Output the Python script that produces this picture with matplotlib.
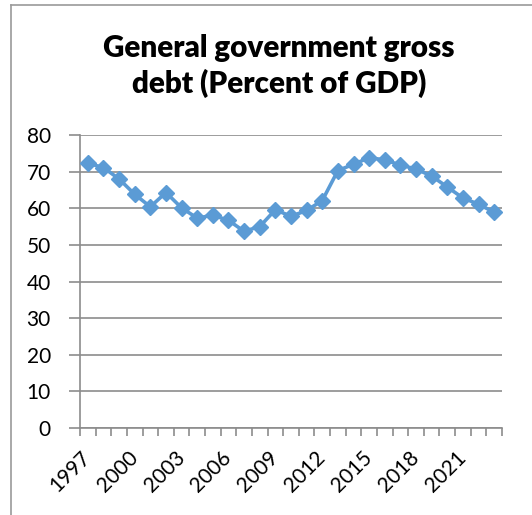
import numpy as np
import matplotlib.pyplot as plt
from matplotlib.lines import Line2D

years = list(range(1997, 2024))
debt = [72.3, 71.1, 68.0, 63.8, 60.4, 64.3, 60.1, 57.3, 58.1, 56.7,
        53.7, 55.0, 59.6, 57.8, 59.4, 62.1, 70.3, 72.0, 73.8, 73.2,
        71.8, 70.7, 68.8, 65.8, 62.8, 61.1, 58.9]
label_years = years[::3]

plt.rcParams['font.family'] = ['Lato', 'DejaVu Sans']

W, H = 532, 515
fig = plt.figure(figsize=(W / 100, H / 100), dpi=100)
ax = fig.add_axes([80 / W, (H - 428) / H, (502 - 80) / W, (428 - 135) / H])

x = np.arange(len(years))
ax.plot(x, debt, color='#5B9BD5', lw=2.6, marker='D', ms=8.5,
        markeredgecolor='#5B9BD5', zorder=3)

ax.set_xlim(-0.5, len(years) - 0.5)
ax.set_ylim(0, 80)
ax.set_yticks(range(0, 81, 10))
ax.yaxis.grid(True, color='#8c8c8c', lw=1.2)
ax.set_axisbelow(True)

# category labels every 3 years, tick marks between categories
ax.set_xticks([years.index(y) for y in label_years])
ax.set_xticklabels([str(y) for y in label_years], rotation=45,
                   ha='right', va='center', rotation_mode='anchor')
ax.set_xticks(np.arange(-0.5, len(years)), minor=True)
ax.tick_params(axis='x', which='major', length=0, pad=19, labelsize=15)
ax.tick_params(axis='x', which='minor', length=6, color='#8c8c8c', width=1.2)
ax.tick_params(axis='y', length=8, color='#8c8c8c', width=1.2, labelsize=15, pad=13)

for side in ('top', 'right'):
    ax.spines[side].set_visible(False)
for side in ('left', 'bottom'):
    ax.spines[side].set_color('#8c8c8c')
    ax.spines[side].set_linewidth(1.2)

fig.text(279 / W, 1 - 57 / H, 'General government gross',
         ha='center', va='baseline', fontsize=21.3, fontweight='heavy')
fig.text(279 / W, 1 - 93 / H, 'debt (Percent of GDP)',
         ha='center', va='baseline', fontsize=21.3, fontweight='heavy')

# chart frame
fig.add_artist(Line2D([10.5 / W, 10.5 / W], [0, 1 - 4.5 / H],
                      transform=fig.transFigure, color='#9a9a9a', lw=1.2))
fig.add_artist(Line2D([10.5 / W, 1], [1 - 4.5 / H, 1 - 4.5 / H],
                      transform=fig.transFigure, color='#9a9a9a', lw=1.2))

fig.savefig('out.png', dpi=100, facecolor='white')
